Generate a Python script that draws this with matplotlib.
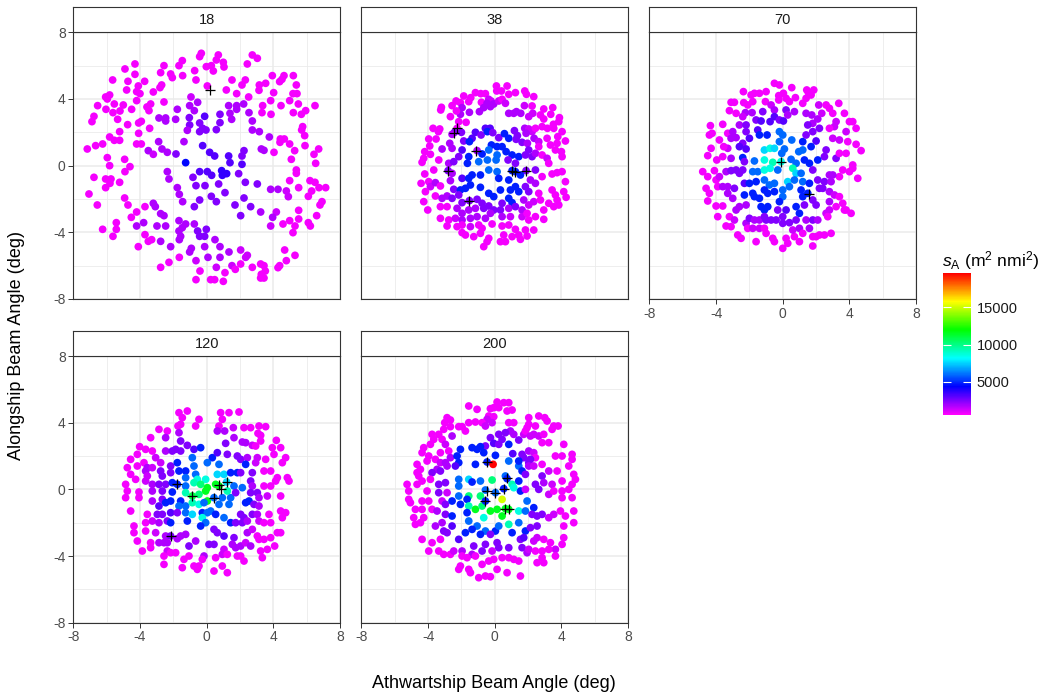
import numpy as np
import matplotlib
matplotlib.use("Agg")
import matplotlib.pyplot as plt
from matplotlib.colors import ListedColormap, Normalize, hsv_to_rgb
from matplotlib.cm import ScalarMappable

plt.rcParams['font.family'] = ['Liberation Sans', 'DejaVu Sans']
plt.rcParams['mathtext.fontset'] = 'custom'
plt.rcParams['mathtext.rm'] = 'Liberation Sans'
plt.rcParams['mathtext.it'] = 'Liberation Sans:italic'
plt.rcParams['axes.unicode_minus'] = False

# ---------------- data ----------------
panel_titles = ['18', '38', '70', '120', '200']
axis_ticks = [-8, -4, 0, 4, 8]
minor_ticks = [-6, -2, 2, 6]
legend_ticks = [5000, 10000, 15000]
sa_limits = [500, 19640]
x_label = 'Athwartship Beam Angle (deg)'
y_label = 'Alongship Beam Angle (deg)'

# (athwartship, alongship, sA)
pts_18 = [
(-0.32,6.74,700),(-0.42,6.54,700),(2.74,6.64,700),(3.04,6.44,700),(0.70,6.64,700),(0.58,6.34,700),(1.00,6.20,700),(1.04,5.92,700),
(-1.46,6.30,700),(-1.66,6.00,700),(-2.56,6.00,700),(-4.30,6.10,700),(-4.90,5.80,700),(-0.02,5.94,700),(0.28,6.00,700),(0.40,5.68,700),
(2.44,6.10,700),(-0.72,5.70,700),(-0.64,5.14,700),(-2.76,5.58,700),(-2.16,5.50,700),(-2.06,5.28,700),(-1.44,5.40,700),(-4.30,5.48,700),
(-5.64,5.14,700),(-4.72,5.06,700),(-3.72,5.06,700),(-4.10,4.78,700),(1.52,5.14,700),(2.32,5.14,700),(2.12,4.84,700),(3.94,5.40,700),
(4.64,5.40,700),(5.20,5.40,700),(4.38,5.04,700),(4.52,5.18,700),(3.54,4.94,700),(3.16,4.84,700),(3.14,4.52,700),(5.38,4.84,700),
(0.04,4.78,700),(1.18,4.54,700),(1.80,4.32,700),(2.52,4.12,700),(4.02,4.38,700),(5.18,4.32,700),(5.42,4.32,700),(-2.70,4.84,700),
(-2.80,4.68,700),(-3.20,4.42,700),(-4.00,4.32,700),(-4.20,4.44,700),(-4.80,4.54,700),(-6.06,4.12,700),(-5.82,4.24,700),(-5.96,4.00,700),
(-0.94,4.12,1300),(-0.54,3.80,1700),(-2.56,3.82,700),(-3.36,3.70,700),(-3.58,3.52,700),(-3.46,3.30,700),(-4.20,3.90,700),(-5.54,3.70,700),
(-5.00,3.64,700),(-5.20,3.28,700),(-5.62,3.18,700),(-6.04,3.38,700),(-6.54,3.60,700),(-4.50,3.38,700),(-6.76,2.96,700),(-6.88,2.64,700),
(-5.34,2.78,700),(-1.76,3.38,1700),(-1.02,3.60,1700),(-0.74,3.30,1700),(1.32,3.60,1700),(1.80,3.60,1700),(1.80,3.38,1700),(1.40,3.14,1700),
(1.50,2.78,1700),(2.22,3.70,1700),(2.54,3.18,1700),(3.36,3.60,700),(3.84,3.90,700),(4.46,3.60,700),(4.98,3.90,700),(5.50,3.70,700),
(3.32,3.18,700),(3.86,3.08,700),(5.20,3.18,700),(5.68,3.08,700),(5.94,3.30,700),(6.50,3.60,700),(-0.12,2.96,3100),(0.80,3.08,2400),
(0.80,2.58,2400),(-2.86,2.86,1700),(-2.46,2.86,1700),(-2.46,2.68,1700),(-1.86,2.78,1700),(-1.04,2.88,2400),(-0.42,2.56,2400),(-1.02,2.44,2400),
(-1.16,2.12,1700),(-0.42,2.04,2400),(-0.24,2.24,2400),(-0.04,2.14,2400),(0.58,2.16,2400),(2.74,2.68,1700),(2.74,2.14,1700),(3.16,2.04,1700),
(-3.92,2.66,700),(-4.08,2.56,700),(-4.74,2.46,700),(-3.42,2.24,700),(-5.22,2.04,700),(-4.08,1.94,700),(5.76,2.34,700),(5.70,2.14,700),
(5.88,1.80,700),(-5.82,1.72,700),(-5.54,1.52,700),(-5.22,1.52,700),(-2.88,1.44,1700),(-1.36,1.44,1700),(3.76,1.72,1700),(4.42,1.60,700),
(4.66,1.60,700),(4.40,1.40,700),(4.98,1.30,700),(-4.20,1.30,700),(-3.92,1.30,700),(-7.16,1.00,700),(-6.66,1.20,700),(-6.24,1.30,700),
(-0.24,1.20,3100),(0.18,0.80,3100),(0.48,0.58,3100),(1.32,0.58,3100),(2.12,0.58,2400),(2.24,0.90,2400),(-3.50,0.90,1700),(-3.20,0.68,1300),
(-2.68,1.00,1700),(-2.36,0.80,1700),(-1.84,0.70,2400),(3.28,1.00,1700),(3.44,0.92,1700),(4.04,0.80,700),(5.90,1.20,700),(5.28,0.90,700),
(6.72,1.00,700),(-5.96,0.48,700),(-4.92,0.38,700),(-1.26,0.18,4400),(1.40,0.18,3100),(2.12,0.08,3100),(5.08,0.38,700),(6.44,0.68,700),
(6.54,0.14,700),(-5.82,0.00,700),(-4.60,-0.06,700),
(-4.90,-0.36,700),(-2.36,-0.36,1700),(-2.26,-0.80,1700),(-0.42,-0.36,3100),(0.04,-0.36,3100),(0.30,-0.58,3100),(0.90,-0.30,3600),(1.20,-0.48,3600),
(0.94,-0.58,3600),(1.92,-0.48,2400),(5.38,-0.26,700),(5.38,-0.46,700),(-6.76,-0.70,700),(-6.06,-0.80,700),(-5.74,-0.80,700),(-5.80,-1.06,700),
(-5.22,-1.00,700),(-6.06,-1.32,700),(-0.82,-0.70,2400),(-0.64,-1.20,2400),(-0.10,-1.20,2400),(0.72,-1.10,2400),(2.32,-1.00,2400),(3.04,-1.10,2400),
(4.98,-0.90,700),(6.20,-0.90,700),(6.50,-1.00,700),(6.74,-1.32,700),(7.14,-1.32,700),(-7.06,-1.70,700),(-6.56,-2.36,700),(-1.76,-1.32,1700),
(-1.64,-1.72,1700),(-1.44,-2.16,1700),(-0.42,-2.06,2400),(0.28,-1.84,2400),(0.58,-2.16,2400),(1.10,-1.62,2400),(3.84,-1.42,1700),(4.28,-1.42,1700),
(4.78,-1.52,1300),(4.90,-1.86,1300),(5.52,-1.32,700),(6.30,-1.52,700),(6.10,-1.84,700),(6.92,-2.16,700),(6.80,-2.36,700),(-4.92,-1.94,700),
(-4.72,-2.36,700),(2.24,-1.94,2400),(1.70,-2.36,2400),(2.64,-2.46,2400),(2.04,-3.00,2400),(-0.74,-2.46,2400),(-3.20,-2.26,1700),(-3.08,-2.46,1700),
(-3.70,-2.46,700),(-4.20,-2.78,700),(-4.52,-3.10,700),(3.24,-2.78,1700),(4.18,-2.78,1300),(3.96,-3.10,1700),(5.52,-2.68,700),(5.52,-3.20,700),
(4.98,-3.30,700),(6.60,-3.00,700),(-5.42,-3.42,700),(-5.42,-3.82,700),(-6.24,-3.82,700),(-5.62,-4.24,700),(-2.76,-2.88,1700),(-2.56,-3.00,1700),
(-3.78,-3.42,1700),(-4.20,-3.62,1700),(-1.66,-3.30,1700),(-1.26,-3.50,1700),(-0.74,-3.50,1700),(-1.46,-3.72,1700),(-1.66,-3.92,1700),(-1.56,-4.24,1700),
(-1.64,-4.44,1700),(-0.54,-3.92,2400),(-0.42,-4.24,2400),(-0.12,-4.24,2400),(-0.02,-3.82,2400),(-2.98,-3.62,1700),(-2.46,-3.62,1700),(3.84,-3.62,1300),
(4.58,-3.50,700),(5.30,-3.62,700),(5.18,-4.02,700),(6.10,-3.42,700),(6.22,-3.62,700),(-3.70,-4.14,700),(-3.30,-4.44,700),(-3.50,-4.54,700),
(-2.76,-4.54,1700),(0.50,-4.44,1700),(0.80,-4.86,1700),(-0.12,-4.86,1700),(-0.92,-4.96,1700),(-1.02,-5.18,1700),(-4.10,-4.86,700),(-2.16,-4.86,1700),
(1.34,-5.18,1700),(2.04,-5.06,1300),(2.44,-5.38,1300),(2.34,-5.50,1300),(4.68,-5.06,700),(5.30,-5.38,700),(4.78,-5.70,700),(-1.64,-5.50,700),
(-0.64,-5.70,1300),(0.08,-5.50,1700),(0.80,-5.50,1700),(-2.26,-5.80,700),(-2.76,-6.10,700),(0.58,-6.10,1300),(1.52,-6.00,1300),(1.72,-6.22,700),
(2.04,-5.90,700),(2.74,-6.10,700),(3.24,-5.90,700),(3.44,-6.00,700),(3.52,-6.32,700),(3.28,-6.52,700),(3.24,-6.74,700),(3.44,-6.74,700),
(4.38,-6.00,700),(4.28,-6.12,700),(-0.40,-6.32,700),(1.10,-6.42,700),(-0.64,-6.84,700),(0.24,-6.84,700),(0.48,-6.84,700),(1.00,-6.94,700),
]

pts_38 = [
(0.10,4.78,700),(0.74,4.78,700),(0.12,4.48,700),(0.40,4.48,700),(0.84,4.28,700),(1.24,4.38,700),(1.80,4.48,700),(1.90,4.28,700),
(-0.56,4.32,700),(-0.84,4.32,700),(-1.16,4.38,700),(-1.86,4.18,700),(-1.44,4.08,700),(-1.56,3.84,700),(-2.32,3.88,700),(-2.06,3.78,700),
(-2.56,3.60,700),(-3.20,3.50,700),(-3.24,3.34,700),(-0.80,3.80,700),(-0.36,3.98,1300),(-0.22,3.88,1300),(-0.06,3.70,1700),(0.24,3.88,1300),
(0.44,3.98,700),(0.64,3.74,1300),(-0.46,3.74,1700),(-0.26,3.54,1700),(-0.66,3.48,1700),(-0.92,3.24,1700),(-1.96,3.48,1700),(-1.52,3.20,1700),
(-2.06,3.08,1700),(-2.30,3.28,700),(-2.66,2.94,700),(-2.16,2.64,700),(-1.72,2.60,700),(0.84,3.14,1700),(1.14,3.14,1700),(1.30,3.24,1700),
(1.56,3.14,1700),(1.78,3.60,1300),(2.24,3.58,700),(2.28,3.14,1300),(2.04,2.94,1300),(2.34,4.14,700),(2.94,3.40,700),(3.48,3.48,700),
(2.74,3.04,700),(3.36,3.08,700),(3.88,2.88,700),(3.84,2.64,700),(2.94,2.80,700),(2.84,2.34,700),(3.16,2.24,700),(3.54,2.24,700),
(3.52,2.48,700),(4.04,2.04,700),(-3.70,2.24,700),(-3.30,2.20,700),(-3.38,2.04,700),(-2.26,2.24,700),(-2.42,2.00,2400),(-2.56,1.88,1700),
(-2.00,2.00,2400),(-1.86,1.48,2400),(-1.36,1.64,3100),(-1.52,1.44,4800),(-1.16,2.00,3100),(-0.82,1.84,2400),(-0.56,2.24,3100),(-0.28,2.24,3100),
(-0.44,2.04,4800),(-0.12,1.98,2400),(0.24,1.68,2400),(0.58,1.92,4800),(0.84,1.64,4800),(1.18,2.10,2400),(1.36,1.80,2400),(1.28,1.58,2400),
(1.80,2.24,1700),(2.04,2.20,1300),(2.24,2.04,1300),(2.44,2.24,700),(1.88,1.94,1700),(1.64,1.40,2400),(1.96,1.34,1700),(2.36,1.64,1700),
(2.64,1.44,1300),(3.14,1.64,700),(3.34,1.24,700),(3.78,1.74,700),(3.74,1.34,700),(4.24,1.48,700),(-3.96,1.60,700),(-3.52,1.60,700),
(-3.90,1.18,700),(-3.16,1.00,1700),(-2.70,1.34,1700),(-2.56,1.04,1700),(-4.20,0.84,700),(-3.86,0.68,700),(-4.26,0.44,700),(-4.36,0.20,700),
(-3.36,0.34,700),(-1.06,0.90,1700),(-0.76,0.70,4800),(-0.20,1.24,4800),(-0.36,0.94,5900),(0.14,1.14,4800),(0.44,1.14,4800),(0.14,0.64,5900),
(0.08,0.34,5900),(-0.44,0.34,5900),(-1.96,0.94,3100),(-2.16,0.54,2400),(-1.56,0.54,4800),(-1.64,0.14,4800),(-0.96,0.24,5900),(0.68,0.84,4800),
(1.04,0.64,4800),(1.44,0.54,4800),(0.80,0.34,2400),(1.24,0.14,2400),(2.04,0.94,2400),(1.84,0.64,2400),(2.24,0.54,2400),(2.44,0.74,1700),
(2.64,1.14,700),(2.84,0.64,700),(3.14,0.44,1300),(3.64,0.94,700),(4.00,0.84,700),(4.04,0.54,700),(3.24,0.14,700),(-2.76,0.14,1700),
(-2.46,0.24,2400),
(-4.20,-0.50,700),(-3.66,-0.26,700),(-2.80,-0.30,2400),(-2.56,-0.46,1700),(-1.96,-0.76,3100),(-1.56,-0.76,4800),(-1.36,-0.56,4800),(-0.86,-0.56,4800),
(-0.36,-0.26,5900),(0.14,-0.36,5900),(0.24,-0.76,4800),(0.84,-0.86,4800),(1.04,-0.30,4800),(1.24,-0.36,4800),(1.88,-0.30,2400),(1.54,-0.56,4800),
(2.44,-0.26,2400),(2.84,-0.66,700),(3.44,-0.50,700),(3.74,-0.42,700),(4.04,-0.36,700),(-4.42,-1.06,700),(-3.96,-0.96,700),(-3.86,-1.26,1300),
(-3.56,-1.02,1700),(-3.26,-1.22,700),(-2.66,-0.90,1700),(-2.46,-1.42,2400),(-2.06,-1.46,4800),(-1.76,-1.36,4800),(-1.46,-1.16,4800),(-0.86,-1.30,4800),
(-0.36,-1.66,4800),(-0.06,-1.86,4800),(0.34,-1.46,4800),(0.94,-1.46,4800),(1.24,-1.26,4800),(1.44,-1.56,4800),(1.84,-1.26,2400),(2.14,-0.86,1700),
(2.44,-1.06,1700),(2.04,-1.56,2400),(-4.16,-1.56,700),(-3.56,-1.82,700),(-3.16,-1.96,1700),(-2.86,-1.82,1700),(-2.56,-1.96,2400),(-2.16,-1.76,2400),
(2.64,-1.66,700),(3.44,-1.46,700),(3.64,-1.76,700),(4.24,-0.96,700),(4.14,-1.56,700),(4.28,-1.90,700),(-4.26,-2.16,700),(-4.02,-2.66,700),
(-3.26,-2.46,700),(-2.86,-2.46,700),(-1.96,-2.22,2400),(-1.52,-2.10,2400),(-1.06,-2.02,2400),(-0.76,-2.26,2400),(-0.36,-2.42,2400),(-0.06,-2.66,2400),
(0.44,-2.26,2400),(0.84,-1.96,4800),(1.04,-2.22,4800),(1.74,-2.06,1700),(2.04,-2.36,1300),(2.34,-2.16,1300),(2.74,-2.06,700),(3.24,-2.26,700),
(3.54,-2.46,700),(3.84,-2.36,700),(3.74,-2.06,700),(-2.26,-2.56,1700),(-1.96,-2.86,1700),(-1.56,-2.66,1700),(-1.16,-2.56,1700),(-0.66,-2.56,2400),
(-0.26,-2.86,1700),(0.34,-2.66,2400),(0.84,-2.56,1700),(1.24,-2.46,2400),(1.64,-2.66,1700),(-3.26,-3.16,700),(-2.76,-3.26,700),(-2.36,-3.16,1300),
(-1.96,-3.26,1700),(-1.46,-3.16,1700),(-1.06,-3.06,1700),(-0.56,-3.16,1700),(0.44,-3.06,1700),(0.94,-3.06,1300),(1.64,-3.06,1300),(1.94,-2.86,700),
(2.04,-3.26,700),(2.44,-3.06,700),(2.94,-2.66,700),(2.94,-3.22,700),(-2.86,-3.62,700),(-2.26,-3.66,700),(-1.96,-3.56,700),(-1.46,-3.66,1300),
(-0.96,-3.56,700),(-0.76,-3.76,700),(-0.16,-3.50,700),(0.44,-3.62,700),(0.84,-3.56,700),(1.24,-3.82,700),(1.84,-3.86,700),(2.34,-3.86,700),
(-1.96,-4.02,700),(-1.76,-4.16,700),(-1.26,-4.26,700),(-0.86,-4.06,700),(-0.36,-4.36,700),(-0.46,-4.56,700),(-0.66,-4.86,700),(0.34,-4.56,700),
(0.54,-4.16,700),(0.64,-4.56,700),(1.04,-4.26,700),(1.44,-4.16,700),(1.54,-4.42,700),(1.94,-4.22,700),
]

pts_70 = [
(-0.50,4.94,700),(-0.20,4.84,700),(0.54,4.68,700),(0.04,4.34,700),(-0.24,4.20,700),(-0.24,3.94,700),(0.20,4.04,700),(0.40,3.84,700),
(0.76,4.08,700),(1.44,4.54,700),(1.54,4.38,700),(1.86,4.54,700),(1.70,4.24,700),(1.40,4.04,700),(1.20,3.74,700),(-1.00,4.44,700),
(-1.40,4.34,700),(-1.70,4.34,700),(-1.90,4.24,700),(-1.80,3.84,700),(-2.10,3.64,700),(-2.36,4.44,700),(-2.34,3.78,700),(-2.90,3.80,700),
(-3.10,3.80,700),(-3.20,3.30,700),(-2.80,3.14,700),(-1.04,3.84,700),(-0.70,3.64,1300),(-0.50,3.34,1700),(-2.24,3.18,1700),(-1.84,3.18,1700),
(-2.40,2.94,1300),(-2.60,2.44,1700),(-2.20,2.44,2400),(-1.60,2.74,2400),(-1.20,3.24,2400),(-1.30,2.68,3100),(-0.76,2.64,3100),(-0.50,2.94,3100),
(-0.20,2.74,2400),(0.04,2.68,3100),(0.20,3.34,2400),(0.30,3.04,1700),(0.70,3.24,1700),(1.40,3.14,1700),(1.74,3.04,1700),(1.80,2.54,1700),
(2.10,2.80,1700),(2.20,2.24,2400),(1.50,2.44,2400),(1.80,2.04,2400),(2.16,3.64,1300),(2.34,3.14,1300),(2.60,3.64,700),(2.80,3.44,700),
(3.00,3.14,700),(3.36,3.74,700),(3.70,3.14,700),(4.00,2.64,700),(4.20,2.64,700),(3.20,2.64,1300),(3.10,2.34,1300),(2.80,2.24,700),
(3.00,1.64,1300),(3.40,1.54,1300),(3.80,2.04,1300),(3.90,1.44,700),(4.40,2.24,700),(4.40,1.28,700),(4.70,0.90,700),(-4.34,2.40,700),
(-3.60,2.48,700),(-4.24,1.94,700),(-4.40,1.84,700),(-3.80,1.54,700),(-3.30,1.94,700),(-3.00,2.04,1700),(-2.80,1.68,1700),(-3.10,1.64,1700),
(-2.20,2.04,2400),(-2.00,1.64,3100),(-2.40,1.34,2400),(-2.60,1.14,3100),(-2.20,1.00,3100),(-1.50,2.14,3100),(-1.40,1.84,4800),(-0.94,1.84,4800),
(-0.20,2.04,5900),(0.00,1.84,5900),(-0.20,1.44,5900),(0.54,1.54,5900),(1.20,1.44,4800),(1.40,1.84,2400),(2.00,1.48,3100),(1.70,1.14,4800),
(2.60,0.94,2400),(2.50,0.54,2400),(2.10,0.34,4800),(-1.10,0.94,7600),(-0.76,1.04,8600),(-0.50,1.04,7600),(0.10,1.00,5900),(-0.06,0.74,5900),
(0.96,0.84,5900),(1.20,0.94,5900),(-1.70,0.28,5900),(-1.10,0.34,8600),(-0.60,0.20,9300),(-0.10,0.24,8600),(0.50,0.38,5900),(0.80,0.14,5900),
(1.30,0.34,4800),(1.60,0.14,4800),(-3.30,1.04,1300),(-3.60,0.54,700),(-3.54,1.14,700),(-4.30,1.04,700),(-4.50,0.60,700),(-3.96,0.34,700),
(-3.10,0.44,1700),(-2.40,0.48,4800),(-2.30,0.24,2400),(3.20,0.44,2400),(3.40,0.74,700),(3.80,0.74,700),(4.20,0.04,700),
(-4.80,-0.36,700),(-4.50,-0.66,700),(-4.10,-0.30,700),(-4.00,-0.86,700),(-3.80,-0.66,1300),(-3.40,-0.36,1700),(-3.10,-0.30,2400),(-2.80,-0.26,2400),
(-2.60,-0.46,2400),(-2.40,-0.26,2400),(-1.80,-0.36,5900),(-1.50,-0.36,5900),(-1.10,-0.26,8600),(-0.76,-0.16,8600),(-0.30,-0.26,5900),(0.60,-0.16,9300),
(0.80,-0.46,7600),(1.10,-0.46,5900),(1.80,-0.26,2400),(2.80,-0.56,1700),(3.40,-0.66,700),(3.60,-0.26,700),(4.00,-0.36,700),(4.20,-0.16,700),
(4.50,-0.76,700),(-4.60,-1.36,700),(-4.40,-1.66,700),(-3.90,-1.26,700),(-4.50,-2.12,700),(-3.60,-1.26,1700),(-3.30,-1.26,1700),(-2.90,-1.36,2400),
(-3.30,-1.66,1700),(-3.00,-1.96,1700),(-2.30,-1.06,3100),(-2.00,-1.06,4800),(-1.60,-0.96,4800),(-1.10,-0.86,5900),(-0.80,-1.16,5900),(-0.50,-1.06,5900),
(0.30,-0.96,7600),(0.40,-1.26,5900),(0.00,-1.46,5900),(0.70,-0.86,5900),(1.20,-0.96,5900),(1.60,-1.06,4800),(2.10,-0.86,2400),(2.50,-0.96,2400),
(2.90,-0.96,1700),(3.00,-0.56,1700),(-2.30,-1.76,4800),(-1.80,-1.66,4800),(-1.70,-1.86,4800),(-1.40,-1.96,4800),(-1.10,-1.46,4800),(-0.90,-1.66,4800),
(-0.50,-1.56,4800),(0.00,-1.86,5900),(-0.20,-2.16,4800),(1.10,-1.46,4800),(1.20,-1.86,4800),(1.50,-1.66,4800),(1.80,-2.06,2400),(2.00,-2.36,2400),
(2.20,-1.36,2400),(2.40,-1.36,2400),(2.80,-1.56,1700),(2.80,-2.16,1700),(3.10,-1.76,1300),(3.40,-1.86,700),(3.60,-2.26,700),(3.70,-2.66,700),
(-4.00,-2.42,700),(-3.60,-2.42,700),(-2.60,-2.46,1700),(-2.20,-2.36,1700),(-2.80,-2.66,1700),(-1.30,-2.46,4800),(-0.90,-2.46,4800),(-1.10,-2.66,4800),
(-0.30,-2.66,2400),(0.20,-2.66,3100),(0.80,-2.46,4800),(1.00,-2.86,4800),(1.30,-2.36,2400),(2.60,-2.86,1300),(2.80,-2.66,1300),(3.20,-2.46,700),
(3.80,-2.66,700),(4.10,-2.86,700),(2.70,-3.06,700),(-3.90,-3.06,700),(-3.20,-3.06,700),(-2.90,-3.26,1300),(-3.10,-3.66,700),(-3.40,-3.62,700),
(-2.20,-3.46,1700),(-2.00,-3.16,2400),(-1.70,-3.26,1700),(-1.40,-3.26,1700),(-1.10,-3.06,2400),(-1.00,-3.26,2400),(-0.70,-3.26,2400),(-0.40,-3.26,2400),
(0.00,-3.06,2400),(0.00,-3.46,2400),(0.40,-3.42,2400),(0.80,-3.26,2400),(1.40,-3.26,1700),(1.80,-3.26,2400),(2.10,-3.26,1700),(-2.70,-4.16,700),
(-2.50,-4.36,700),(-2.10,-3.76,700),(-1.80,-3.76,1300),(-1.40,-3.76,1300),(-1.10,-3.76,700),(-1.00,-4.06,700),(-1.60,-4.56,700),(-0.60,-4.36,700),
(-0.50,-4.56,700),(0.00,-4.96,700),(0.20,-4.36,700),(0.30,-4.66,700),(0.70,-4.26,700),(0.60,-3.86,1300),(1.00,-3.76,1700),(1.20,-4.06,700),
(1.00,-4.56,700),(1.60,-3.76,1700),(1.80,-4.26,700),(2.00,-4.26,700),(2.20,-4.16,700),(2.50,-4.16,700),(2.90,-4.06,700),(1.80,-4.82,700),
]

pts_120 = [
(-1.66,4.60,700),(-1.16,4.70,700),(-1.46,4.30,700),(-1.56,3.90,700),(-1.72,3.80,700),(-0.46,4.20,700),(-0.66,3.80,700),(0.84,4.60,700),
(1.34,4.60,700),(1.94,4.64,700),(0.94,4.20,700),(0.74,3.80,700),(0.64,3.50,1700),(1.08,3.50,1700),(1.60,3.70,1300),(2.24,3.70,700),
(2.64,3.70,700),(3.14,3.80,700),(3.54,3.76,700),(3.08,3.36,700),(3.24,3.24,700),(3.24,2.90,700),(-2.86,3.60,700),(-2.36,3.50,700),
(-2.46,3.10,1700),(-3.36,3.10,700),(-1.66,3.40,1700),(-1.56,2.90,2400),(-1.16,2.64,2400),(1.14,2.76,2400),(1.64,3.10,1700),(2.14,2.84,1700),
(2.34,2.80,1700),(2.74,2.64,1300),(2.94,2.60,700),(4.18,2.94,700),(3.94,2.50,700),(4.44,2.50,700),(4.04,2.10,700),(4.74,1.90,700),
(4.54,1.60,700),(-4.02,2.56,700),(-3.66,2.40,700),(-3.26,2.30,700),(-4.16,2.10,700),(-4.56,1.80,700),(-3.76,1.60,700),(-3.56,1.30,1700),
(-3.06,1.90,1300),(-2.76,1.60,1300),(-2.46,2.30,1700),(-2.06,2.30,2400),(-1.86,2.40,2400),(-1.56,2.30,2400),(-2.16,1.40,2400),(-1.76,1.60,4800),
(-0.76,2.40,3100),(-0.36,2.50,4800),(-0.86,1.90,5900),(-0.76,1.40,5900),(0.34,1.90,4800),(0.64,2.20,3100),(1.24,2.10,2400),(0.74,1.50,5900),
(0.04,1.60,5900),(1.84,2.00,2400),(2.04,1.80,2400),(2.44,1.90,1700),(2.34,1.50,4800),(3.04,1.90,1300),(3.54,1.80,700),(2.94,1.60,1300),
(-4.76,1.30,700),(-4.16,1.40,700),(-4.56,0.90,700),(-3.66,1.10,1700),(-3.56,0.80,1300),(-3.26,1.30,1300),(-2.76,1.10,2400),(-2.66,0.80,2400),
(-2.16,1.00,2400),(-1.66,1.10,4800),(-1.26,1.10,4800),(-0.66,0.90,5900),(-0.56,0.60,8600),(-0.06,0.60,8600),(0.64,0.90,7600),(1.04,0.90,7600),
(1.44,1.00,4800),(1.84,1.00,4800),(2.04,1.00,2400),(2.74,1.00,2400),(3.44,1.10,700),(3.84,1.10,700),(4.24,0.70,700),(4.84,0.70,700),
(4.94,0.50,700),(-4.86,0.30,700),(-4.26,0.60,700),(-3.66,0.50,1300),(-3.26,0.30,1700),(-2.86,0.30,2400),(-2.46,0.30,2400),(-2.06,0.40,4800),
(-1.76,0.30,4800),(-1.26,0.70,5900),(-1.26,0.20,5900),(-0.76,0.40,9300),(-0.36,0.30,10200),(0.04,0.10,11500),(0.54,0.30,11500),(0.74,0.20,11500),
(1.20,0.44,7600),(1.64,0.20,5900),(2.14,0.10,5900),(2.64,0.50,2400),(2.74,0.20,1700),(3.44,0.20,700),(3.84,0.20,700),(4.14,0.50,700),
(-4.76,-0.10,700),(-4.06,-0.16,700),(-3.26,-0.10,1700),(-2.66,-0.10,2400),(-2.06,-0.16,4800),(-1.26,-0.20,9300),(-0.86,-0.40,11000),(-0.46,-0.30,10200),
(-0.06,-0.10,11500),(0.04,-0.70,11500),(0.44,-0.50,5900),(0.94,-0.50,5900),(1.44,-0.50,5900),(1.24,-0.10,9300),(1.74,-0.20,2400),(2.64,-0.20,2400),
(3.04,-0.20,2400),(3.14,-0.50,1700),(3.64,-0.40,1300),(4.44,-0.40,700),(-4.86,-0.50,700),(-4.06,-0.50,700),(-3.26,-0.70,1700),(-2.66,-0.60,2400),
(-2.86,-1.00,3100),(-2.46,-0.80,4800),(-2.16,-0.70,4800),(-1.56,-0.70,4800),(-1.66,-1.00,5900),(-1.26,-1.00,5900),(-0.86,-0.80,9300),(-0.46,-0.90,8600),
(-0.16,-0.80,5900),(0.74,-0.90,5900),(1.34,-0.90,5900),(2.34,-0.80,4800),(2.54,-0.70,4800),(2.84,-0.90,2400),(3.14,-1.00,1700),(-4.56,-1.30,700),
(-3.56,-1.50,700),(-2.96,-1.50,2400),(-2.66,-1.50,2400),(-2.16,-1.40,3100),(-1.76,-1.40,2400),(-1.26,-1.40,5900),(-0.86,-1.50,7600),(-0.26,-1.40,4800),
(0.04,-1.40,5900),(0.24,-1.30,5900),(0.54,-1.50,4800),(2.04,-1.50,2400),(2.24,-1.70,2400),(2.74,-1.50,2400),(3.04,-1.50,1700),(3.74,-1.50,700),
(4.44,-1.30,700),(4.74,-1.40,700),(4.54,-1.70,700),(-3.66,-2.00,700),(-3.26,-1.90,1300),(-2.86,-2.00,1700),(-2.36,-1.90,2400),(-2.16,-2.00,4800),
(-1.16,-1.90,4800),(-0.26,-1.70,8600),(-0.06,-2.00,5900),(-0.36,-2.20,4800),(1.04,-1.70,5900),(1.44,-2.00,4800),(1.74,-2.00,2400),(2.14,-2.00,2400),
(2.44,-1.90,1700),(3.14,-1.90,1300),(3.44,-2.00,700),(3.84,-2.00,700),(-4.36,-2.20,700),(-4.36,-2.60,700),(-3.66,-2.50,700),(-3.06,-2.60,1300),
(-2.46,-2.80,1700),(-2.16,-2.80,2400),(-1.76,-2.96,1700),(-1.56,-2.80,1700),(-1.26,-2.70,1700),(0.44,-2.40,2400),(0.64,-2.60,2400),(1.04,-2.80,3100),
(1.64,-2.90,2400),(2.44,-2.60,1700),(2.74,-2.40,1300),(3.04,-2.80,700),(3.14,-3.00,700),(3.44,-3.00,700),(3.84,-2.90,700),(4.24,-2.60,700),
(4.44,-2.60,700),(4.08,-3.40,700),(-4.16,-3.10,700),(-3.86,-3.70,700),(-3.36,-3.20,700),(-3.36,-3.50,700),(-2.86,-3.20,1700),(-2.56,-3.20,1700),
(-2.36,-3.20,1700),(-2.36,-3.70,1300),(-2.56,-4.00,700),(-2.16,-3.80,700),(-1.06,-3.40,2400),(-0.66,-3.10,1700),(0.14,-3.30,2400),(0.44,-3.30,2400),
(1.04,-3.60,1300),(1.54,-3.30,1700),(1.74,-3.50,1700),(2.04,-3.40,1700),(2.34,-3.20,1300),(-1.36,-4.20,700),(-1.06,-4.00,700),(-1.86,-3.80,700),
(-0.76,-4.60,700),(-0.46,-4.60,700),(-0.56,-4.80,700),(-0.16,-4.00,1700),(-0.26,-4.20,700),(0.54,-4.10,700),(0.94,-3.90,1300),(1.24,-3.90,700),
(0.94,-4.60,700),(0.44,-4.90,700),(1.24,-5.00,700),(1.84,-4.00,700),(2.04,-4.00,700),(2.24,-4.30,700),(2.64,-3.40,1700),(3.24,-3.70,700),
(3.34,-4.10,700),(3.64,-3.60,700),(-2.56,-4.50,700),(-1.46,-4.70,700),
]

pts_200 = [
(0.14,5.24,700),(0.54,5.20,700),(0.84,5.20,700),(-1.56,5.00,700),(-1.06,4.80,700),(-0.26,4.84,700),(-0.06,4.90,700),(0.24,4.90,700),
(0.74,4.70,700),(1.04,4.76,700),(-0.36,4.40,700),(-0.06,4.36,700),(-0.46,4.20,1300),(-0.76,4.00,700),(-0.56,3.80,1300),(-0.16,4.00,1300),
(-2.86,4.30,700),(-2.66,4.16,700),(-3.00,4.00,700),(-2.66,3.76,700),(-3.06,3.60,700),(-2.16,3.76,700),(-1.96,3.76,700),(-1.56,4.00,700),
(-1.16,4.04,700),(-1.76,3.50,700),(0.84,4.00,700),(1.14,4.00,700),(0.94,3.50,1700),(0.64,3.40,2400),(1.14,3.30,1700),(1.44,2.96,2400),
(1.74,3.30,1300),(1.94,3.70,700),(2.04,3.90,700),(2.44,3.80,700),(2.04,4.30,700),(2.64,4.40,700),(3.00,4.30,700),(3.14,4.10,700),
(3.54,3.80,700),(3.80,3.80,700),(1.84,3.50,700),(2.14,3.20,1300),(2.34,3.30,1300),(2.64,3.20,1300),(2.94,3.30,700),(3.44,3.60,700),
(2.84,2.80,700),(3.24,2.80,700),(4.14,2.70,700),(-3.76,3.30,700),(-3.36,3.30,700),(-3.66,3.00,700),(-3.16,3.00,700),(-2.56,3.20,1700),
(-2.96,2.70,1300),(-3.86,2.70,700),(-4.26,2.50,700),(0.24,3.30,2400),(0.44,3.00,2400),(-0.26,3.10,2400),(-0.06,2.76,3100),(0.24,2.70,2400),
(0.84,2.70,4800),(-0.56,2.60,2400),(-2.06,2.40,4800),(-1.36,2.50,4800),(-1.06,2.40,4800),(-0.86,2.56,4800),(-0.66,2.20,4800),(0.04,2.04,4800),
(1.08,2.14,3100),(1.64,2.10,2400),(2.04,2.30,1700),(2.34,2.20,1300),(2.44,1.90,700),(2.14,1.80,2400),(1.74,1.90,2400),(2.04,1.60,2400),
(2.04,1.40,1700),(-4.36,2.20,700),(-3.96,2.00,700),(-3.26,2.20,700),(-2.76,2.30,700),(-3.56,1.80,700),(-4.06,1.70,700),(-4.66,1.50,700),
(-4.46,1.20,700),(-4.66,1.00,700),(-3.26,1.60,1300),(-2.96,1.60,1700),(-2.66,1.90,1700),(-2.26,2.00,4800),(-2.16,1.60,4800),(-2.36,1.40,3100),
(-2.86,1.40,1700),(-3.46,1.20,1700),(-3.76,1.00,2400),(-3.26,1.10,2400),(-1.16,1.50,4800),(-0.46,1.64,4800),(0.84,1.70,5900),
(1.44,1.40,5900),(1.64,1.10,4800),(1.84,0.90,2400),(1.44,1.70,4800),(2.34,1.40,1300),(2.84,1.50,700),(3.24,1.10,1300),(3.74,1.10,700),
(3.64,2.00,700),(4.04,2.00,700),(4.64,2.10,700),(4.64,1.80,700),(4.44,1.40,700),(4.74,0.90,700),(-4.56,0.80,700),(-4.36,0.50,700),
(-3.86,0.60,700),(-3.36,0.30,2400),(-2.96,0.40,2400),(-2.16,0.60,5900),(-1.56,0.60,7600),(-1.36,0.44,4800),(-0.86,0.50,5900),(-0.16,0.56,10200),
(0.64,0.80,5900),(0.74,0.64,4800),(1.04,0.30,9300),(1.44,0.50,4800),(1.54,-0.10,4800),(2.84,0.80,2400),(2.94,0.40,1700),(3.44,0.30,1300),
(4.04,0.50,700),(4.64,0.30,700),(4.84,0.60,700),(2.44,0.30,2400),(-5.26,0.30,700),(-4.66,0.30,700),(-2.16,0.20,5900),(-0.56,-0.04,5900),
(0.54,0.04,4800),(1.14,0.10,8600),(2.64,0.00,2400),
(-5.16,-0.10,700),(-4.06,-0.10,700),(-3.36,-0.20,2400),(-2.86,-0.20,1300),(-2.16,-0.40,5900),(-1.56,-0.40,10200),(-0.86,-0.40,10200),(0.04,-0.20,5900),
(1.84,0.00,1300),(3.24,-0.30,1300),(3.54,-0.10,700),(4.04,-0.10,700),(4.04,-0.50,700),(4.44,0.00,700),(4.64,-0.50,700),(-5.16,-0.60,700),
(-5.06,-0.80,700),(-4.36,-0.70,700),(-3.96,-0.70,700),(-3.16,-0.70,1300),(-2.96,-0.90,2400),(-2.56,-0.70,4800),(-2.06,-0.90,4800),(-1.66,-0.60,4800),
(-1.56,-1.00,9300),(-1.16,-1.20,11500),(-0.76,-1.00,10200),(-0.56,-0.70,4800),(-0.26,-1.30,11500),(0.14,-1.20,11500),(0.44,-0.60,15200),(0.64,-1.16,11500),
(0.84,-1.20,11500),(0.44,-1.60,11500),(1.44,-1.30,8600),(1.84,-1.30,5900),(1.94,-0.70,5900),(2.34,-1.10,4800),(2.24,-1.50,2400),(2.54,-1.60,2400),
(2.84,-1.50,2400),(3.24,-1.70,1300),(3.54,-1.50,1300),(-4.76,-1.20,700),(-4.36,-1.20,700),(-3.76,-1.20,700),(-3.46,-1.30,1700),(-2.96,-1.50,2400),
(-2.56,-1.60,4800),(-1.66,-1.40,4800),(-4.86,-1.70,700),(-4.76,-2.10,700),(-4.46,-2.00,700),(-4.26,-1.70,700),(-3.56,-2.20,1700),(-3.16,-2.00,1700),
(-3.06,-2.50,2400),(-2.86,-2.60,2400),(-2.56,-2.20,3100),(-1.56,-1.90,5900),(-0.66,-1.70,8600),(-1.06,-2.20,5900),(-0.56,-2.50,5900),(0.04,-2.50,4800),
(0.24,-2.20,5900),(0.84,-2.10,9300),(1.04,-2.60,4800),(1.44,-2.00,5900),(1.84,-2.50,4800),(2.14,-2.30,2400),(2.54,-2.20,2400),(3.94,-1.30,700),
(4.24,-1.60,700),(4.74,-1.30,700),(4.14,-2.20,700),(4.74,-2.00,700),(-4.36,-3.00,700),(-3.76,-3.20,700),(-3.26,-3.00,700),(-2.16,-3.00,3100),
(-1.76,-2.60,4800),(-1.36,-2.40,4800),(-0.86,-2.70,4800),(-0.56,-3.30,2400),(-0.26,-2.70,2400),(0.14,-3.20,2400),(0.24,-3.50,2400),(0.84,-3.50,2400),
(1.54,-3.00,2400),(1.64,-3.50,2400),(1.74,-2.90,3100),(2.34,-3.10,1300),(2.54,-2.90,1300),(2.94,-3.00,700),(3.34,-3.20,700),(3.64,-3.60,1300),
(4.04,-3.30,700),(4.14,-2.90,700),(3.24,-3.60,700),(-3.96,-3.70,700),(-3.36,-3.70,700),(-3.06,-3.90,700),(-2.66,-3.90,700),(-2.46,-3.70,1300),
(-1.96,-3.70,1700),(-1.36,-3.90,1700),(-0.76,-3.70,2400),(-1.26,-3.40,2400),(-0.16,-3.70,1300),(0.44,-4.10,700),(0.84,-4.10,700),(1.14,-4.20,700),
(1.44,-4.30,700),(1.94,-3.80,1700),(2.04,-3.60,1300),(2.44,-3.70,700),(2.84,-3.70,700),(2.84,-4.10,700),(2.94,-4.40,700),(3.64,-4.00,700),
(2.54,-4.40,700),(-1.96,-4.00,700),(-1.66,-4.10,700),(-1.16,-4.00,700),(-0.76,-4.50,700),(-0.36,-4.30,700),(-0.06,-4.20,700),(0.14,-4.80,700),
(-2.06,-4.60,700),(-2.16,-4.80,700),(-1.56,-4.80,700),(-1.46,-5.00,700),(-0.96,-5.30,700),(-0.56,-5.20,700),(-0.26,-5.24,700),(0.74,-5.00,700),
(1.54,-5.20,700),(-0.10,1.50,19640),
]

# points flagged with a "+" symbol
plus_18 = [(0.20, 4.52)]
plus_38 = [(-2.26, 2.24), (-2.46, 1.98), (-1.10, 0.90), (-2.80, -0.30), (1.04, -0.30), (1.24, -0.36), (1.88, -0.30), (-1.52, -2.10)]
plus_70 = [(-0.10, 0.24), (1.56, -1.70)]
plus_120 = [(-1.76, 0.30), (0.74, 0.24), (1.20, 0.44), (-0.86, -0.40), (0.44, -0.50), (-2.16, -2.80), (0.84, 0.00)]
plus_200 = [(-0.46, 1.64), (0.74, 0.70), (0.54, 0.04), (-0.46, -0.10), (0.04, -0.20), (-0.56, -0.70), (0.64, -1.16), (0.84, -1.20)]

panel_points = [pts_18, pts_38, pts_70, pts_120, pts_200]
panel_plus = [plus_18, plus_38, plus_70, plus_120, plus_200]

# ---------------- style ----------------
W, H = 1048, 700
fig = plt.figure(figsize=(W / 100, H / 100), dpi=100)

hues = np.linspace(300 / 360, 0, 256)
cmap = ListedColormap(hsv_to_rgb(np.column_stack([hues, np.ones(256), np.ones(256)])))
norm = Normalize(vmin=sa_limits[0], vmax=sa_limits[1])

col_left = [73.3, 361.4, 649.4]
row_top = [32.3, 356.0]
pw = 266.7
strip_h = 25

layout = [(0, 0), (0, 1), (0, 2), (1, 0), (1, 1)]
show_x = [False, False, True, True, True]
show_y = [True, False, False, True, False]

for i, (r, c) in enumerate(layout):
    l = col_left[c] / W
    b = 1 - (row_top[r] + pw) / H
    ax = fig.add_axes([l, b, pw / W, pw / H])
    ax.set_xlim(-8, 8)
    ax.set_ylim(-8, 8)
    ax.set_xticks(axis_ticks)
    ax.set_yticks(axis_ticks)
    ax.set_xticks(minor_ticks, minor=True)
    ax.set_yticks(minor_ticks, minor=True)
    ax.grid(which='major', color='#EBEBEB', lw=1.1)
    ax.grid(which='minor', color='#EBEBEB', lw=0.6)
    ax.set_axisbelow(True)
    for s in ax.spines.values():
        s.set_color('#333333')
        s.set_linewidth(0.8)
    ax.tick_params(which='minor', length=0)
    ax.tick_params(which='major', length=3.5, width=0.7, color='#333333',
                   labelsize=10, labelcolor='#4D4D4D', pad=2)
    if not show_x[i]:
        ax.tick_params(axis='x', which='major', length=0, labelbottom=False)
    if not show_y[i]:
        ax.tick_params(axis='y', which='major', length=0, labelleft=False)

    arr = np.array(panel_points[i], dtype=float)
    ax.scatter(arr[:, 0], arr[:, 1], c=arr[:, 2], cmap=cmap, norm=norm,
               s=31, linewidths=0, zorder=3)
    pl = np.array(panel_plus[i], dtype=float)
    ax.scatter(pl[:, 0], pl[:, 1], marker='+', color='black', s=42,
               linewidths=0.9, zorder=4)

    # strip
    sax = fig.add_axes([l, 1 - row_top[r] / H, pw / W, strip_h / H])
    sax.set_facecolor('white')
    sax.set_xticks([])
    sax.set_yticks([])
    for s in sax.spines.values():
        s.set_color('#333333')
        s.set_linewidth(0.8)
    sax.text(0.5, 0.5, panel_titles[i], ha='center', va='center',
             fontsize=10.5, color='#1A1A1A', transform=sax.transAxes)

fig.text(494 / W, 1 - 683 / H, x_label, ha='center', va='center', fontsize=13)
fig.text(17 / W, 1 - 345 / H, y_label, ha='center', va='center',
         rotation=90, fontsize=13)

# colour bar
cax = fig.add_axes([942.7 / W, 1 - 415 / H, 28.3 / W, 142 / H])
sm = ScalarMappable(norm=norm, cmap=cmap)
cb = fig.colorbar(sm, cax=cax, ticks=legend_ticks)
cb.outline.set_visible(False)
cax.tick_params(left=True, right=True, labelleft=False, labelright=True,
                direction='in', color='white', length=5.5, width=0.8,
                labelsize=10.5, labelcolor='#1A1A1A', pad=4)
cax.set_yticklabels([str(t) for t in legend_ticks])
fig.text(942 / W, 1 - 266 / H, r'$s_{\mathrm{A}}$ (m$^2$ nmi$^2$)',
         ha='left', va='baseline', fontsize=12.6)

fig.savefig('out.png', dpi=100)
